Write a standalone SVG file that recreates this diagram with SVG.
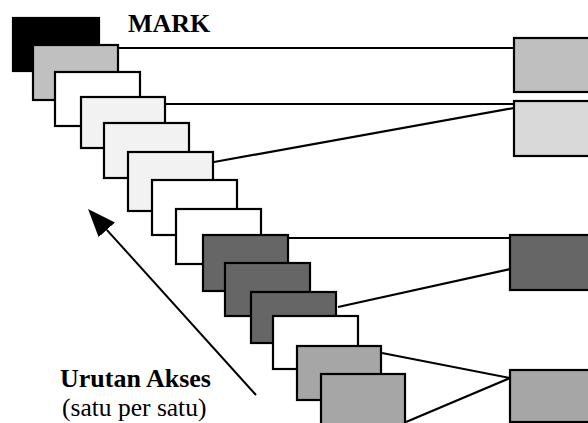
<svg xmlns="http://www.w3.org/2000/svg" width="588" height="423" viewBox="0 0 588 423">
<style>
.b{stroke:#000;stroke-width:2.2}
.c line{stroke:#000;stroke-width:2.2}
.t{font-family:"Liberation Serif","Times New Roman",serif;fill:#000}
</style>
<defs>
<marker id="ah" markerUnits="userSpaceOnUse" markerWidth="30" markerHeight="24" refX="0" refY="11" orient="auto">
<path d="M0,0 L28,11 L0,22 z" fill="#000"/>
</marker>
</defs>
<rect width="588" height="423" fill="#fff"/>
<g id="connectors" class="c">
<line x1="119" y1="48" x2="514" y2="48"/>
<line x1="166" y1="104" x2="514" y2="104"/>
<line x1="214" y1="162" x2="514" y2="108"/>
<line x1="289" y1="238" x2="510" y2="238"/>
<line x1="338" y1="307" x2="510" y2="269"/>
<line x1="382" y1="353" x2="510" y2="378"/>
<line x1="406" y1="422" x2="510" y2="378"/>
</g>
<g id="arrow">
<line x1="256" y1="395" x2="106.8" y2="229.8" stroke="#000" stroke-width="2" marker-end="url(#ah)"/>
</g>
<g id="m1"><rect class="b" x="13" y="18" width="86" height="53" fill="#000"/></g>
<g id="m2"><rect class="b" x="33" y="45" width="85" height="55" fill="#c0c0c0"/></g>
<g id="m3"><rect class="b" x="55" y="72" width="85" height="54" fill="#fff"/></g>
<g id="m4"><rect class="b" x="81" y="97" width="84" height="51" fill="#f2f2f2"/></g>
<g id="m5"><rect class="b" x="104" y="123" width="85" height="55" fill="#f2f2f2"/></g>
<g id="m6"><rect class="b" x="128" y="152" width="85" height="59" fill="#f2f2f2"/></g>
<g id="m7"><rect class="b" x="152" y="180" width="85" height="55" fill="#fff"/></g>
<g id="m8"><rect class="b" x="176" y="209" width="85" height="55" fill="#fff"/></g>
<g id="m9"><rect class="b" x="203" y="235" width="85" height="56" fill="#666"/></g>
<g id="m10"><rect class="b" x="225" y="263" width="85" height="53" fill="#666"/></g>
<g id="m11"><rect class="b" x="251" y="292" width="85" height="51" fill="#666"/></g>
<g id="m12"><rect class="b" x="273" y="316" width="85" height="53" fill="#fff"/></g>
<g id="m13"><rect class="b" x="297" y="346" width="84" height="54" fill="#a6a6a6"/></g>
<g id="m14"><rect class="b" x="321" y="374" width="84" height="60" fill="#a6a6a6"/></g>
<g id="r1"><rect class="b" x="514" y="38" width="90" height="54" fill="#bfbfbf"/></g>
<g id="r2"><rect class="b" x="514" y="101" width="90" height="55" fill="#d9d9d9"/></g>
<g id="r3"><rect class="b" x="510" y="235" width="94" height="55" fill="#666"/></g>
<g id="r4"><rect class="b" x="510" y="370" width="94" height="52" fill="#a6a6a6"/></g>
<text class="t" x="128" y="32" font-size="26" font-weight="bold">MARK</text>
<text class="t" x="60" y="387" font-size="26" font-weight="bold">Urutan Akses</text>
<text class="t" x="62" y="416" font-size="25.5">(satu per satu)</text>
</svg>
